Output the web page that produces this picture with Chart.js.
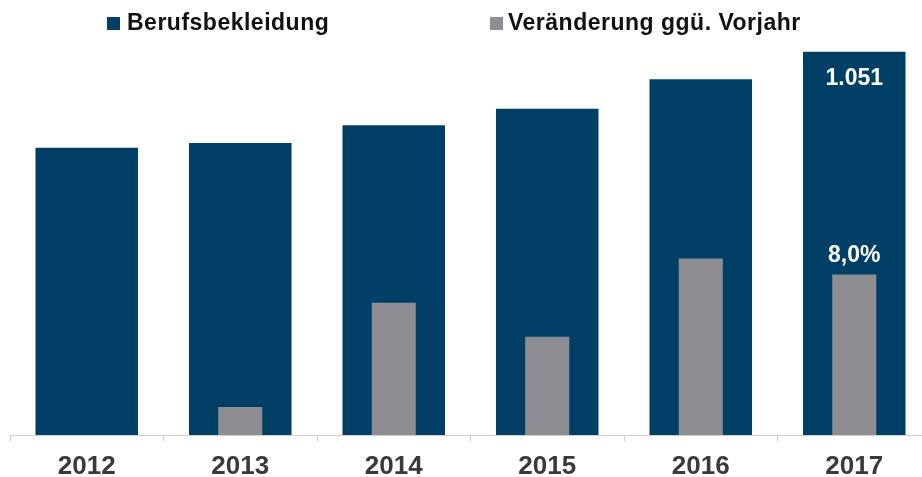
<!DOCTYPE html>
<html>
<head>
<meta charset="utf-8">
<script src="https://cdn.jsdelivr.net/npm/chart.js@4/dist/chart.umd.min.js"></script>
<style>
  html, body { margin: 0; padding: 0; background: #ffffff; overflow: hidden; }
  #wrap { position: relative; width: 922px; height: 477px; overflow: hidden; }
  #chart { position: absolute; left: 0; top: 0; }
  .lg-box { position: absolute; width: 13px; height: 13px; top: 17px; }
  .lg-text { position: absolute; top: 11px; font: bold 23px "Liberation Sans", Arial, sans-serif;
             line-height: 1; letter-spacing: 0.5px; color: #111111; white-space: nowrap; }
</style>
</head>
<body>
<div id="wrap">
  <canvas id="chart" width="940" height="477"></canvas>
  <div class="lg-box" style="left:107px; background:#023F66;"></div>
  <div class="lg-text" id="lg1" style="left:127px;"></div>
  <div class="lg-box" style="left:490px; background:#8E8E92;"></div>
  <div class="lg-text" id="lg2" style="left:508px;"></div>
</div>
<script>
// ---- data ----
const categories = ['2012', '2013', '2014', '2015', '2016', '2017'];
const seriesNames = ['Berufsbekleidung', 'Veränderung ggü. Vorjahr'];
const berufsbekleidung = [788, 801, 850, 895, 976, 1051];
const veraenderung = [0, 1.4, 6.6, 4.9, 8.8, 8.0];
const labelBerufs = [null, null, null, null, null, '1.051'];
const labelVeraend = [null, null, null, null, null, '8,0%'];

document.getElementById('lg1').textContent = seriesNames[0];
document.getElementById('lg2').textContent = seriesNames[1];

const FONT = '"Liberation Sans", Arial, sans-serif';

const valueLabels = {
  id: 'valueLabels',
  afterDatasetsDraw(chart) {
    const ctx = chart.ctx;
    ctx.save();
    ctx.fillStyle = '#ffffff';
    ctx.font = 'bold 23px ' + FONT;
    ctx.textAlign = 'center';
    ctx.textBaseline = 'alphabetic';
    chart.data.datasets.forEach((ds, di) => {
      const meta = chart.getDatasetMeta(di);
      const labels = ds.valueLabels;
      meta.data.forEach((el, i) => {
        if (!labels[i]) return;
        const y = di === 0 ? el.y + 33 : el.y - 13;
        ctx.fillText(labels[i], el.x, y);
      });
    });
    ctx.restore();
  }
};

new Chart(document.getElementById('chart'), {
  type: 'bar',
  data: {
    labels: categories,
    datasets: [
      {
        label: seriesNames[0],
        data: berufsbekleidung,
        valueLabels: labelBerufs,
        backgroundColor: '#023F66',
        yAxisID: 'y',
        order: 1,
        categoryPercentage: 1,
        barPercentage: 0.668
      },
      {
        label: seriesNames[1],
        data: veraenderung,
        valueLabels: labelVeraend,
        backgroundColor: '#8E8E92',
        yAxisID: 'y1',
        order: 0,
        categoryPercentage: 1,
        barPercentage: 0.287
      }
    ]
  },
  options: {
    responsive: false,
    animation: false,
    layout: { padding: { left: 10, right: 9, top: 34, bottom: 0 } },
    datasets: { bar: { grouped: false } },
    plugins: {
      legend: { display: false },
      tooltip: { enabled: false }
    },
    scales: {
      x: {
        offset: true,
        grid: { display: true, drawOnChartArea: false, tickLength: 6, color: '#cfcfcf', offset: true },
        border: { display: true, color: '#cfcfcf', width: 1 },
        ticks: { color: '#3a3a3a', padding: 10, font: { family: FONT, size: 26, weight: 'bold' } },
        afterFit(axis) { axis.height = 42; }
      },
      y: { display: false, min: 0, max: 1100 },
      y1: { display: false, min: 0, max: 20 }
    }
  },
  plugins: [valueLabels]
});
</script>
</body>
</html>
